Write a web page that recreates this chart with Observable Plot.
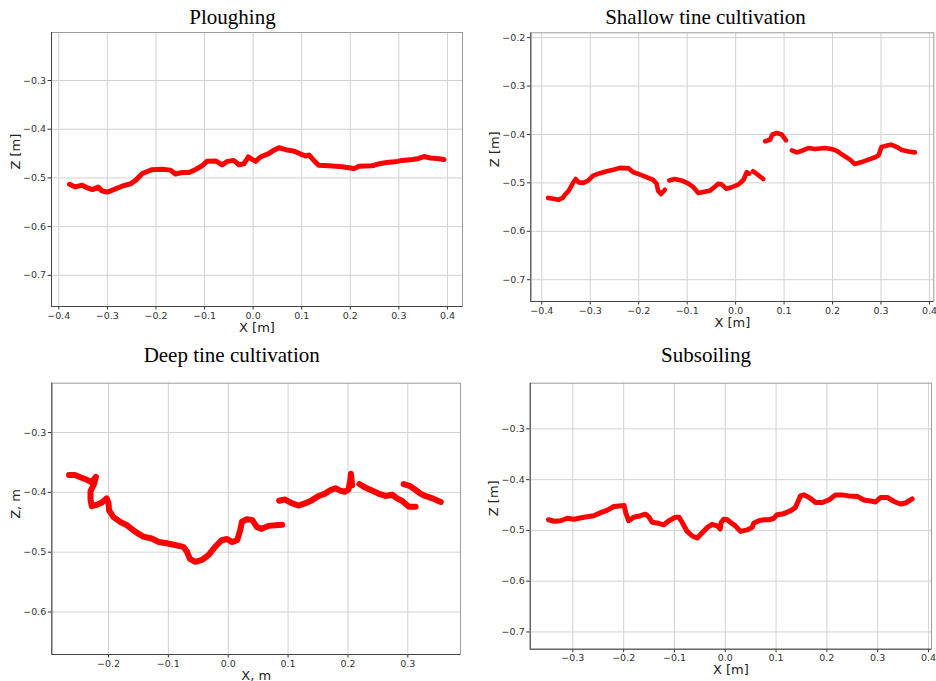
<!DOCTYPE html>
<html>
<head>
<meta charset="utf-8">
<script src="https://cdn.jsdelivr.net/npm/d3@7"></script>
<script src="https://cdn.jsdelivr.net/npm/@observablehq/plot@0.6"></script>
<style>
  html, body { margin: 0; padding: 0; background: #fff; }
  #page { position: relative; width: 936px; height: 681px; overflow: hidden; background: #fff; }
  .panel { position: absolute; }
  .title {
    position: absolute; width: 360px; text-align: center;
    font-family: "Liberation Serif", "Times New Roman", serif;
    font-size: 21px; line-height: 24px; color: #000; white-space: nowrap;
  }
</style>
</head>
<body>
<div id="page"></div>
<script>
// Soil surface profiles, Z against X (metres), one point list per continuous segment.

const titles = ["Ploughing", "Shallow tine cultivation", "Deep tine cultivation", "Subsoiling"];
const xLabels = ["X [m]", "X [m]", "X, m", "X [m]"];
const yLabels = ["Z [m]", "Z [m]", "Z, m", "Z [m]"];

const ploughingProfile = [[
  [-0.378,-0.513],[-0.366,-0.5185],[-0.352,-0.515],[-0.342,-0.520],[-0.331,-0.524],[-0.319,-0.5185],
  [-0.311,-0.527],[-0.300,-0.529],[-0.287,-0.524],[-0.270,-0.517],[-0.252,-0.512],[-0.242,-0.505],
  [-0.228,-0.491],[-0.208,-0.483],[-0.187,-0.482],[-0.170,-0.484],[-0.160,-0.492],[-0.146,-0.489],
  [-0.132,-0.489],[-0.119,-0.483],[-0.105,-0.475],[-0.095,-0.466],[-0.077,-0.465],[-0.064,-0.473],
  [-0.053,-0.466],[-0.040,-0.464],[-0.029,-0.473],[-0.019,-0.471],[-0.010,-0.457],[-0.002,-0.462],
  [0.005,-0.466],[0.015,-0.457],[0.032,-0.450],[0.043,-0.443],[0.053,-0.438],[0.067,-0.442],
  [0.084,-0.445],[0.098,-0.451],[0.108,-0.455],[0.115,-0.453],[0.125,-0.464],[0.135,-0.474],
  [0.156,-0.475],[0.183,-0.477],[0.197,-0.479],[0.207,-0.481],[0.218,-0.476],[0.245,-0.475],
  [0.259,-0.471],[0.279,-0.468],[0.293,-0.467],[0.307,-0.464],[0.328,-0.462],[0.341,-0.460],
  [0.352,-0.456],[0.365,-0.459],[0.379,-0.460],[0.393,-0.462]
]];

const shallowProfile = [
  [[-0.387,-0.531],[-0.376,-0.533],[-0.366,-0.535],[-0.357,-0.531],[-0.352,-0.524],[-0.345,-0.517],
   [-0.340,-0.508],[-0.335,-0.499],[-0.330,-0.492],[-0.324,-0.499],[-0.314,-0.500],[-0.304,-0.495],
   [-0.294,-0.485],[-0.280,-0.480],[-0.266,-0.476],[-0.252,-0.473],[-0.239,-0.469],[-0.221,-0.470],
   [-0.211,-0.478],[-0.197,-0.483],[-0.184,-0.488],[-0.170,-0.494],[-0.163,-0.502],[-0.160,-0.516],
   [-0.154,-0.523],[-0.146,-0.514]],
  [[-0.137,-0.495],[-0.126,-0.492],[-0.112,-0.495],[-0.098,-0.501],[-0.087,-0.509],[-0.077,-0.521],
   [-0.067,-0.519],[-0.053,-0.516],[-0.043,-0.508],[-0.036,-0.502],[-0.029,-0.503],[-0.019,-0.512],
   [-0.008,-0.509],[0.006,-0.503],[0.016,-0.494],[0.023,-0.478],[0.028,-0.481]],
  [[0.036,-0.476],[0.043,-0.481],[0.057,-0.492]],
  [[0.061,-0.414],[0.071,-0.411],[0.076,-0.400],[0.085,-0.397],[0.095,-0.400],[0.104,-0.412]],
  [[0.116,-0.433],[0.126,-0.437],[0.136,-0.434],[0.150,-0.428],[0.164,-0.430],[0.184,-0.428],
   [0.198,-0.430],[0.209,-0.434],[0.222,-0.443],[0.236,-0.452],[0.246,-0.461],[0.260,-0.457],
   [0.274,-0.452],[0.288,-0.447],[0.295,-0.443],[0.301,-0.426],[0.312,-0.423],[0.321,-0.421],
   [0.333,-0.426],[0.343,-0.432],[0.357,-0.435],[0.370,-0.437]]
];

const deepProfile = [
  [[-0.266,-0.371],[-0.256,-0.371],[-0.246,-0.375],[-0.236,-0.379],[-0.228,-0.383],[-0.221,-0.374],
   [-0.224,-0.386],[-0.230,-0.398],[-0.230,-0.412],[-0.228,-0.423],[-0.220,-0.421],[-0.211,-0.417],
   [-0.203,-0.410],[-0.200,-0.418],[-0.199,-0.430],[-0.192,-0.441],[-0.181,-0.449],[-0.169,-0.455],
   [-0.155,-0.466],[-0.142,-0.474],[-0.128,-0.477],[-0.116,-0.483],[-0.103,-0.485],[-0.089,-0.488],
   [-0.075,-0.491],[-0.069,-0.499],[-0.064,-0.511],[-0.055,-0.516],[-0.044,-0.513],[-0.033,-0.505],
   [-0.022,-0.491],[-0.011,-0.480],[-0.002,-0.478],[0.006,-0.483],[0.015,-0.480],[0.020,-0.463],
   [0.023,-0.449],[0.031,-0.445],[0.040,-0.446],[0.048,-0.458],[0.056,-0.461],[0.067,-0.456],
   [0.079,-0.455],[0.090,-0.454]],
  [[0.085,-0.414],[0.095,-0.412],[0.106,-0.418],[0.118,-0.422],[0.129,-0.418],[0.140,-0.413],
   [0.151,-0.406],[0.162,-0.402],[0.171,-0.396],[0.179,-0.393],[0.187,-0.397],[0.195,-0.399],
   [0.201,-0.395],[0.204,-0.379],[0.205,-0.369],[0.207,-0.388]],
  [[0.219,-0.386],[0.229,-0.392],[0.240,-0.397],[0.251,-0.402],[0.263,-0.406],[0.274,-0.404],
   [0.282,-0.410],[0.290,-0.414],[0.302,-0.424],[0.313,-0.424]],
  [[0.293,-0.386],[0.303,-0.389],[0.313,-0.396],[0.321,-0.402],[0.329,-0.406],[0.341,-0.410],
   [0.355,-0.416]]
];

const subsoilingProfile = [[
  [-0.348,-0.479],[-0.337,-0.482],[-0.324,-0.481],[-0.311,-0.476],[-0.298,-0.478],[-0.278,-0.474],
  [-0.259,-0.471],[-0.245,-0.465],[-0.232,-0.460],[-0.219,-0.453],[-0.199,-0.451],[-0.196,-0.465],
  [-0.190,-0.481],[-0.180,-0.474],[-0.167,-0.471],[-0.157,-0.468],[-0.150,-0.474],[-0.144,-0.484],
  [-0.131,-0.486],[-0.121,-0.489],[-0.111,-0.481],[-0.098,-0.474],[-0.091,-0.474],[-0.085,-0.484],
  [-0.075,-0.502],[-0.065,-0.511],[-0.055,-0.515],[-0.045,-0.504],[-0.035,-0.494],[-0.026,-0.488],
  [-0.016,-0.491],[-0.010,-0.497],[-0.008,-0.484],[-0.003,-0.478],[0.004,-0.479],[0.010,-0.484],
  [0.020,-0.491],[0.030,-0.502],[0.043,-0.499],[0.053,-0.494],[0.056,-0.486],[0.066,-0.481],
  [0.076,-0.479],[0.086,-0.479],[0.096,-0.476],[0.102,-0.469],[0.115,-0.467],[0.129,-0.461],
  [0.138,-0.455],[0.148,-0.432],[0.155,-0.430],[0.165,-0.435],[0.178,-0.445],[0.191,-0.445],
  [0.204,-0.440],[0.217,-0.430],[0.230,-0.430],[0.243,-0.432],[0.260,-0.433],[0.273,-0.440],
  [0.286,-0.442],[0.296,-0.444],[0.306,-0.435],[0.319,-0.435],[0.332,-0.443],[0.345,-0.448],
  [0.355,-0.446],[0.368,-0.438]
]];

// Tick values for each panel
const xTicksPlough = [-0.4, -0.3, -0.2, -0.1, 0, 0.1, 0.2, 0.3, 0.4];
const yTicksPlough = [-0.7, -0.6, -0.5, -0.4, -0.3];
const xTicksShallow = [-0.4, -0.3, -0.2, -0.1, 0, 0.1, 0.2, 0.3, 0.4];
const yTicksShallow = [-0.7, -0.6, -0.5, -0.4, -0.3, -0.2];
const xTicksDeep = [-0.2, -0.1, 0, 0.1, 0.2, 0.3];
const yTicksDeep = [-0.6, -0.5, -0.4, -0.3];
const xTicksSubsoil = [-0.3, -0.2, -0.1, 0, 0.1, 0.2, 0.3, 0.4];
const yTicksSubsoil = [-0.7, -0.6, -0.5, -0.4, -0.3];

const fmt = d3.format(".1f");

// Equal-aspect axes: domains chosen so 0.1 m spans the same pixels on both axes.
const panels = [
  {segments: ploughingProfile, xTicks: xTicksPlough, yTicks: yTicksPlough,
   xDomain: [-0.415, 0.431], yDomain: [-0.764, -0.2014],
   left: 0, top: 28, width: 470, height: 312, margin: [4, 8, 34, 51],
   lineWidth: 5, titleX: 232.5, titleTop: 5.2},
  {segments: shallowProfile, xTicks: xTicksShallow, yTicks: yTicksShallow,
   xDomain: [-0.4227, 0.409], yDomain: [-0.745, -0.190],
   left: 470, top: 28, width: 466, height: 312, margin: [4.3, 2.7, 39, 60.3],
   lineWidth: 4.6, titleX: 705.5, titleTop: 5.2},
  {segments: deepProfile, xTicks: xTicksDeep, yTicks: yTicksDeep,
   xDomain: [-0.2947, 0.388], yDomain: [-0.671, -0.2175],
   left: 0, top: 368, width: 470, height: 313, margin: [14.7, 10, 27, 51.3],
   lineWidth: 6, titleX: 231.7, titleTop: 342.6},
  {segments: subsoilingProfile, xTicks: xTicksSubsoil, yTicks: yTicksSubsoil,
   xDomain: [-0.384, 0.406], yDomain: [-0.734, -0.210],
   left: 470, top: 368, width: 466, height: 313, margin: [14.7, 5, 32.3, 59.7],
   lineWidth: 5, titleX: 706, titleTop: 342.6}
];

const page = document.getElementById("page");

panels.forEach((p, i) => {
  const rows = p.segments.flatMap((seg, k) => seg.map(([x, z]) => ({x, z, seg: k})));
  const [mt, mr, mb, ml] = p.margin;
  const chart = Plot.plot({
    width: p.width,
    height: p.height,
    marginTop: mt, marginRight: mr, marginBottom: mb, marginLeft: ml,
    style: {fontFamily: "DejaVu Sans", fontSize: "9.5px", color: "#333", background: "transparent", overflow: "visible"},
    x: {domain: p.xDomain, ticks: p.xTicks, tickFormat: fmt, tickSize: 3.5, tickPadding: 2, label: null},
    y: {domain: p.yDomain, ticks: p.yTicks, tickFormat: fmt, tickSize: 3.5, tickPadding: 2, label: null},
    marks: [
      Plot.ruleX(p.xTicks, {stroke: "#d2d2d2", strokeWidth: 1}),
      Plot.ruleY(p.yTicks, {stroke: "#d2d2d2", strokeWidth: 1}),
      Plot.frame({stroke: "#9c9c9c"}),
      Plot.ruleX([p.xDomain[0]], {stroke: "#444"}),
      Plot.ruleY([p.yDomain[0]], {stroke: "#444"}),
      Plot.line(rows, {x: "x", y: "z", z: "seg", stroke: "#ff0000", strokeWidth: p.lineWidth,
        strokeLinecap: "round", strokeLinejoin: "round"}),
      Plot.text([xLabels[i]], {text: d => d, frameAnchor: "bottom", dy: 25, lineAnchor: "bottom",
        fontSize: 13, fill: "#222"}),
      Plot.text([yLabels[i]], {text: d => d, frameAnchor: "left", dx: -36, rotate: -90,
        lineAnchor: "middle", fontSize: 13, fill: "#222"})
    ]
  });
  const holder = document.createElement("div");
  holder.className = "panel";
  holder.style.left = p.left + "px";
  holder.style.top = p.top + "px";
  holder.style.width = p.width + "px";
  holder.style.height = p.height + "px";
  holder.appendChild(chart);
  page.appendChild(holder);

  const title = document.createElement("div");
  title.className = "title";
  title.textContent = titles[i];
  title.style.left = (p.titleX - 180) + "px";
  title.style.top = p.titleTop + "px";
  page.appendChild(title);
});
</script>
</body>
</html>
